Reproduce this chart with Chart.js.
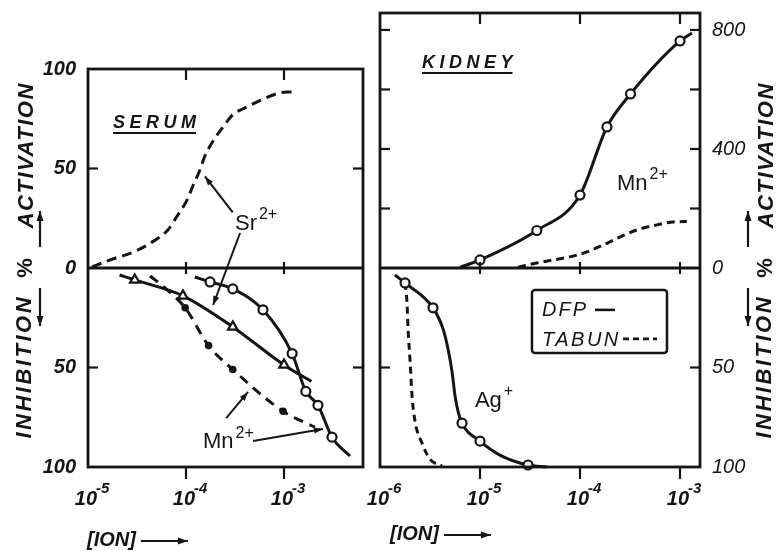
<!DOCTYPE html>
<html>
<head>
<meta charset="utf-8">
<script src="https://cdn.jsdelivr.net/npm/chart.js@4.4.1/dist/chart.umd.min.js"></script>
<style>
  html, body { margin: 0; padding: 0; background: #fff; }
  body { width: 776px; height: 551px; position: relative; overflow: hidden; }
  #serumChart { position: absolute; left: 0; top: 0; }
  #kidneyChart { position: absolute; left: 330px; top: 0; }
</style>
</head>
<body>
<canvas id="serumChart" width="380" height="551"></canvas>
<canvas id="kidneyChart" width="446" height="551"></canvas>
<script>
// Ion activation / inhibition of esterase, serum (left) and kidney (right)
const FONT = '"Liberation Sans", Arial, Helvetica, sans-serif';
const ink = '#151515';

// ---- SERUM panel ----
const serumXTicks = [1e-5, 1e-4, 1e-3];
const serumActTicks = [0, 50, 100];
const serumInhTicks = [50, 100];

// Sr2+ activation, tabun (dashed)
const srActConc = [1.1e-5, 1.66e-5, 2.9e-5, 4.5e-5, 6.5e-5, 8.1e-5, 1.02e-4, 1.17e-4, 1.38e-4, 1.55e-4, 1.9e-4, 2.4e-4, 3.0e-4, 4.2e-4, 6.2e-4, 9.1e-4, 1.2e-3];
const srActPct = [0.5, 4, 8, 13, 19, 26, 34, 41, 49, 56, 64, 71, 77, 81, 85, 88, 88.5];

// Sr2+ inhibition, DFP (solid, triangles)
const srInhConc = [2.1e-5, 3.0e-5, 9.3e-5, 3.0e-4, 1.0e-3, 1.9e-3];
const srInhPct = [3.5, 6, 14, 29.6, 48.7, 57];
const srInhMark = [0, 1, 1, 1, 1, 0];

// Mn2+ inhibition, DFP (solid, open circles)
const mnDfpConc = [1.23e-4, 1.76e-4, 3.0e-4, 6.1e-4, 1.21e-3, 1.67e-3, 2.22e-3, 3.09e-3, 4.71e-3];
const mnDfpPct = [4.5, 7, 10.5, 21, 43, 62, 69, 85, 94.5];
const mnDfpMark = [0, 1, 1, 1, 1, 1, 1, 1, 0];

// Mn2+ inhibition, tabun (dashed, filled dots)
const mnTabConc = [4.3e-5, 6.1e-5, 9.8e-5, 1.7e-4, 3.0e-4, 9.8e-4, 2.07e-3];
const mnTabPct = [4, 10, 20, 39, 51, 72, 80];
const mnTabMark = [0, 0, 1, 1, 1, 1, 0];

// ---- KIDNEY panel ----
const kidneyXTicks = [1e-6, 1e-5, 1e-4, 1e-3];
const kidneyActTicks = [0, 400, 800];
const kidneyActMarks = [200, 400, 600, 800];
const kidneyInhTicks = [50, 100];

// Mn2+ activation, DFP (solid, open circles)
const kMnDfpConc = [6.3e-6, 1.0e-5, 3.7e-5, 1.0e-4, 1.86e-4, 3.2e-4, 1.0e-3, 1.32e-3];
const kMnDfpPct = [2, 27, 126, 245, 474, 585, 763, 790];
const kMnDfpMark = [0, 1, 1, 1, 1, 1, 1, 0];

// Mn2+ activation, tabun (dashed)
const kMnTabConc = [2.4e-5, 3.7e-5, 5.4e-5, 8.5e-5, 1.17e-4, 1.7e-4, 2.5e-4, 3.7e-4, 5.9e-4, 8.5e-4, 1.17e-3];
const kMnTabPct = [3, 17, 27, 40, 54, 77, 104, 128, 145, 155, 156];

// Ag+ inhibition, DFP (solid, open circles)
const agDfpConc = [1.41e-6, 1.78e-6, 3.39e-6, 4.27e-6, 4.79e-6, 5.25e-6, 5.62e-6, 6.03e-6, 6.61e-6, 1.0e-5, 1.58e-5, 3.02e-5, 4.68e-5];
const agDfpPct = [3.5, 7.5, 20, 30.6, 40.7, 52, 64, 72, 78, 87, 94, 99, 100];
const agDfpMark = [0, 1, 1, 0, 0, 0, 0, 0, 1, 1, 0, 1, 0];

// Ag+ inhibition, tabun (dashed)
const agTabConc = [1.78e-6, 1.86e-6, 1.91e-6, 2.0e-6, 2.09e-6, 2.24e-6, 2.63e-6, 3.16e-6, 4.17e-6];
const agTabPct = [7.5, 17, 31, 47, 64, 77, 88, 96, 99.5];


function series(conc, pct, axis, style) {
    return Object.assign({
        data: conc.map((c, i) => ({ x: c, y: pct[i] })),
        xAxisID: 'x',
        yAxisID: axis,
        borderColor: ink,
        borderWidth: 3,
        fill: false,
        cubicInterpolationMode: 'monotone',
        pointRadius: 0,
        pointBorderColor: ink,
        pointBorderWidth: 2.2,
        pointBackgroundColor: '#fff',
        clip: 6
    }, style);
}

function seg(ctx, x1, y1, x2, y2) {
    ctx.beginPath();
    ctx.moveTo(x1, y1);
    ctx.lineTo(x2, y2);
    ctx.stroke();
}

function arrow(ctx, x1, y1, x2, y2, head = 9) {
    seg(ctx, x1, y1, x2, y2);
    const a = Math.atan2(y2 - y1, x2 - x1);
    const c = Math.cos(a), s = Math.sin(a), w = head * 0.35;
    ctx.beginPath();
    ctx.moveTo(x2, y2);
    ctx.lineTo(x2 - head * c + w * s, y2 - head * s - w * c);
    ctx.lineTo(x2 - head * c - w * s, y2 - head * s + w * c);
    ctx.closePath();
    ctx.fill();
}

function supText(ctx, base, sup, x, y, size) {
    ctx.textAlign = 'left';
    ctx.textBaseline = 'alphabetic';
    ctx.font = size + 'px ' + FONT;
    ctx.fillText(base, x, y);
    const w = ctx.measureText(base).width;
    ctx.font = Math.round(size * 0.72) + 'px ' + FONT;
    ctx.fillText(sup, x + w + 2, y - size * 0.48);
}

function underlined(ctx, text, x, y, size, spacing) {
    ctx.font = 'italic bold ' + size + 'px ' + FONT;
    ctx.letterSpacing = spacing + 'px';
    ctx.textAlign = 'left';
    ctx.textBaseline = 'alphabetic';
    ctx.fillText(text, x, y);
    const w = ctx.measureText(text).width - spacing;
    ctx.letterSpacing = '0px';
    ctx.lineWidth = 2;
    seg(ctx, x, y + 5, x + w, y + 5);
}

function vText(ctx, text, x, y, font, spacing) {
    ctx.save();
    ctx.translate(x, y);
    ctx.rotate(-Math.PI / 2);
    ctx.font = font;
    ctx.letterSpacing = spacing + 'px';
    ctx.textAlign = 'center';
    ctx.textBaseline = 'middle';
    ctx.fillText(text, spacing / 2, 0);
    ctx.restore();
}

// frame, zero line, inward ticks, x labels, side titles and notes
function makeDecor(cfg) {
    return {
        id: 'decor',
        afterDatasetsDraw(chart) {
            const { ctx, chartArea: ca, scales } = chart;
            const sx = scales.x, sa = scales.act, si = scales.inh;
            const m = {
                P: v => sx.getPixelForValue(v),
                A: v => sa.getPixelForValue(v),
                I: v => si.getPixelForValue(v),
                ca
            };
            const zeroY = m.A(0);
            ctx.save();
            ctx.strokeStyle = ink;
            ctx.fillStyle = ink;

            ctx.lineWidth = 2.8;
            ctx.strokeRect(ca.left, ca.top, ca.right - ca.left, ca.bottom - ca.top);
            seg(ctx, ca.left, zeroY, ca.right, zeroY);

            ctx.lineWidth = 2.2;
            cfg.actMarks.forEach(v => {
                const y = m.A(v);
                seg(ctx, ca.left, y, ca.left + 10, y);
                seg(ctx, ca.right - 10, y, ca.right, y);
            });
            cfg.inhMarks.forEach(v => {
                const y = m.I(v);
                seg(ctx, ca.left, y, ca.left + 10, y);
                seg(ctx, ca.right - 10, y, ca.right, y);
            });
            cfg.xLabels.filter(v => v > sx.min * 1.01).forEach(v => {
                const x = m.P(v);
                seg(ctx, x, ca.top, x, ca.top + 11);
                seg(ctx, x, zeroY - 6, x, zeroY + 6);
                seg(ctx, x, ca.bottom, x, ca.bottom + 12);
            });

            // x tick labels 10^n
            cfg.xLabels.forEach(v => {
                const x = m.P(v);
                const e = Math.round(Math.log10(v));
                ctx.textBaseline = 'alphabetic';
                ctx.textAlign = 'right';
                ctx.font = 'italic bold 20px ' + FONT;
                ctx.fillText('10', x + 9, ca.bottom + 38);
                ctx.textAlign = 'left';
                ctx.font = 'italic bold 15px ' + FONT;
                ctx.fillText(String(e), x + 8, ca.bottom + 26);
            });

            // axis title [ION] -->
            ctx.font = 'italic bold 20px ' + FONT;
            ctx.textAlign = 'left';
            ctx.textBaseline = 'middle';
            const tx = ca.left + cfg.titleDx;
            ctx.fillText('[ION]', tx, 540 + cfg.titleDy);
            const tw = ctx.measureText('[ION]').width;
            arrow(ctx, tx + tw + 5, 541 + cfg.titleDy, tx + tw + 52, 541 + cfg.titleDy, 10);

            // vertical side titles
            const bx = cfg.side === 'left' ? ca.left - 61 : ca.right + 67;
            const ax = cfg.side === 'left' ? ca.left - 48 : ca.right + 48;
            const tfont = 'italic bold 22px ' + FONT;
            vText(ctx, 'ACTIVATION', bx, zeroY - 112, tfont, 1.5);
            vText(ctx, 'INHIBITION', bx - 2, zeroY + 100, tfont, 2.5);
            vText(ctx, '%', bx - 1, zeroY, 'bold 22px ' + FONT, 0);
            arrow(ctx, ax, zeroY - 21, ax, zeroY - 57, 10);
            arrow(ctx, ax, zeroY + 20, ax, zeroY + 58, 10);

            ctx.lineWidth = 2.2;
            cfg.notes(ctx, m);
            ctx.restore();
        }
    };
}

function yAxis(position, stack, weight, min, max, reverse, ticks, width, bold) {
    return {
        type: 'linear', position, stack, stackWeight: weight,
        min, max, reverse,
        grid: { display: false, drawTicks: false },
        border: { display: false },
        ticks: {
            padding: 12, color: ink,
            font: { family: FONT, size: 20, style: 'italic', weight: bold ? 'bold' : 'normal' }
        },
        afterBuildTicks: s => { s.ticks = ticks.map(v => ({ value: v })); },
        afterFit: s => {
            s.width = width;
            // keep the plot box where the layout padding puts it
            s.paddingTop = 0;
            s.paddingBottom = 0;
        }
    };
}

function xAxis(min, max) {
    return {
        type: 'logarithmic', position: 'bottom', min, max,
        grid: { display: false, drawTicks: false },
        border: { display: false },
        ticks: { display: false },
        afterFit: s => { s.height = 84; }
    };
}

const common = {
    responsive: false,
    animation: false,
    events: [],
    plugins: { legend: { display: false }, tooltip: { enabled: false } }
};

new Chart(document.getElementById('serumChart'), {
    type: 'line',
    data: {
        datasets: [
            series(mnDfpConc, mnDfpPct, 'inh', { pointRadius: mnDfpMark.map(k => k ? 4.5 : 0) }),
            series(srInhConc, srInhPct, 'inh', { pointStyle: 'triangle', pointRadius: srInhMark.map(k => k ? 5.5 : 0) }),
            series(mnTabConc, mnTabPct, 'inh', { borderDash: [10, 7], pointBackgroundColor: ink, pointBorderWidth: 0, pointRadius: mnTabMark.map(k => k ? 3.8 : 0) }),
            series(srActConc, srActPct, 'act', { borderDash: [10, 6] })
        ]
    },
    options: {
        ...common,
        layout: { padding: { left: 0, top: 69, right: 17, bottom: 0 } },
        scales: {
            x: xAxis(1e-5, Math.pow(10, -5 + 275 / 98)),
            inh: yAxis('left', 'serum', 1, 0, 100, true, serumInhTicks, 88, true),
            act: yAxis('left', 'serum', 1, 0, 100, false, serumActTicks, 88, true)
        }
    },
    plugins: [makeDecor({
        xLabels: serumXTicks, actMarks: [50], inhMarks: [50],
        side: 'left', titleDx: -1, titleDy: 0,
        notes(ctx, m) {
            underlined(ctx, 'SERUM', m.P(1.8e-5), m.A(70.4), 18, 4.5);
            supText(ctx, 'Sr', '2+', m.P(3.16e-4), m.A(19.1), 22);
            arrow(ctx, m.P(3.0e-4), m.A(28), m.P(1.56e-4), m.A(46));
            arrow(ctx, m.P(3.56e-4), m.A(17.6), m.P(1.89e-4), m.I(18.6));
            supText(ctx, 'Mn', '2+', m.P(1.49e-4), m.I(90.5), 22);
            arrow(ctx, m.P(2.57e-4), m.I(75.4), m.P(4.3e-4), m.I(62.3));
            arrow(ctx, m.P(4.83e-4), m.I(86.9), m.P(2.5e-3), m.I(80.9));
        }
    })]
});

new Chart(document.getElementById('kidneyChart'), {
    type: 'line',
    data: {
        datasets: [
            series(kMnDfpConc, kMnDfpPct, 'act', { pointRadius: kMnDfpMark.map(k => k ? 4.5 : 0) }),
            series(agDfpConc, agDfpPct, 'inh', { pointRadius: agDfpMark.map(k => k ? 4.5 : 0) }),
            series(kMnTabConc, kMnTabPct, 'act', { borderDash: [8, 5] }),
            series(agTabConc, agTabPct, 'inh', { borderDash: [7, 5] })
        ]
    },
    options: {
        ...common,
        layout: { padding: { left: 50, top: 13, right: 0, bottom: 0 } },
        scales: {
            x: xAxis(1e-6, Math.pow(10, -2.8)),
            act: yAxis('right', 'kidney', 255, 0, 857, false, kidneyActTicks, 76, false),
            inh: yAxis('right', 'kidney', 199, 0, 100, true, kidneyInhTicks, 76, false)
        }
    },
    plugins: [makeDecor({
        xLabels: kidneyXTicks, actMarks: kidneyActMarks, inhMarks: [50],
        side: 'right', titleDx: 10, titleDy: -6,
        notes(ctx, m) {
            underlined(ctx, 'KIDNEY', m.P(2.63e-6), m.A(672), 18, 4.5);
            supText(ctx, 'Mn', '2+', m.P(2.34e-4), m.A(262), 22);
            supText(ctx, 'Ag', '+', m.P(8.9e-6), m.I(69.8), 22);

            // legend box
            const x0 = m.P(3.31e-5), x1 = m.P(7.41e-4);
            const y0 = m.I(11), y1 = m.I(42.7);
            ctx.lineWidth = 2.5;
            ctx.beginPath();
            ctx.roundRect(x0, y0, x1 - x0, y1 - y0, 3);
            ctx.stroke();
            ctx.font = 'italic 20px ' + FONT;
            ctx.textAlign = 'left';
            ctx.textBaseline = 'alphabetic';
            ctx.letterSpacing = '2px';
            ctx.fillText('DFP', x0 + 10, y0 + 26);
            ctx.letterSpacing = '2.5px';
            ctx.fillText('TABUN', x0 + 10, y0 + 56);
            ctx.letterSpacing = '0px';
            ctx.lineWidth = 2.6;
            seg(ctx, x0 + 63, y0 + 20, x0 + 83, y0 + 20);
            ctx.setLineDash([6, 4]);
            seg(ctx, x0 + 91, y0 + 49, x0 + 125, y0 + 49);
            ctx.setLineDash([]);
        }
    })]
});
</script>
</body>
</html>
